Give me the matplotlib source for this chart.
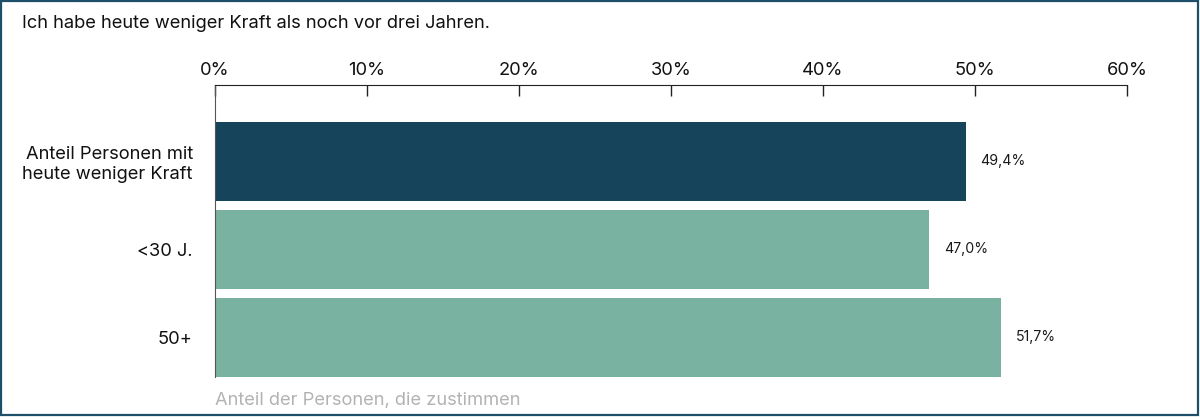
import matplotlib.pyplot as plt
from matplotlib.patches import Rectangle

plt.rcParams['font.family'] = ['Inter', 'DejaVu Sans']

# daten
titel = "Ich habe heute weniger Kraft als noch vor drei Jahren."
kategorien = ["Anteil Personen mit\nheute weniger Kraft", "<30 J.", "50+"]
werte = [49.4, 47.0, 51.7]
farben = ["#16445b", "#79b2a0", "#79b2a0"]
ticks = [0, 10, 20, 30, 40, 50, 60]
tick_labels = ["0%", "10%", "20%", "30%", "40%", "50%", "60%"]
achsen_titel = "Anteil der Personen, die zustimmen"

fig = plt.figure(figsize=(12, 4.19), dpi=100)
ax = fig.add_axes([215/1200, 1 - 377/419, (1127 - 215)/1200, (377 - 85)/419])

y = list(range(len(kategorien)))
ax.barh(y, werte, height=0.9, color=farben)

for i, w in enumerate(werte):
    ax.annotate(f"{w:.1f}%".replace(".", ","), (w, i), xytext=(10.5, 0),
                textcoords="offset points", va="center", ha="left",
                fontsize=10.2, color="#1a1a1a")

ax.set_xlim(0, 60)
ax.set_ylim(2.45, -0.866)
ax.set_yticks(y)
ax.set_yticklabels(kategorien, fontsize=13.2, color="#111111", linespacing=1.2,
                   multialignment="right")
ax.tick_params(axis="y", length=0, pad=16)

ax.xaxis.tick_top()
ax.set_xticks(ticks)
ax.set_xticklabels(tick_labels, fontsize=13.2, color="#111111")
ax.tick_params(axis="x", direction="in", length=8, width=1, color="#222222", pad=4.5)

for s in ["right", "bottom"]:
    ax.spines[s].set_visible(False)
ax.spines["top"].set_color("#222222")
ax.spines["left"].set_color("#555555")

fig.text(22/1200, 1 - 23.5/419, titel, fontsize=13.2, va="center", ha="left", color="#111111")
fig.text(215/1200, 1 - 400/419, achsen_titel, fontsize=13.2, va="center", ha="left", color="#b3b3b3")

fig.patches.append(Rectangle((0.001, 0.0105), 0.997, 0.988, transform=fig.transFigure,
                             fill=False, edgecolor="#1d4f6a", linewidth=1.6))

fig.savefig("out.png", dpi=100)
